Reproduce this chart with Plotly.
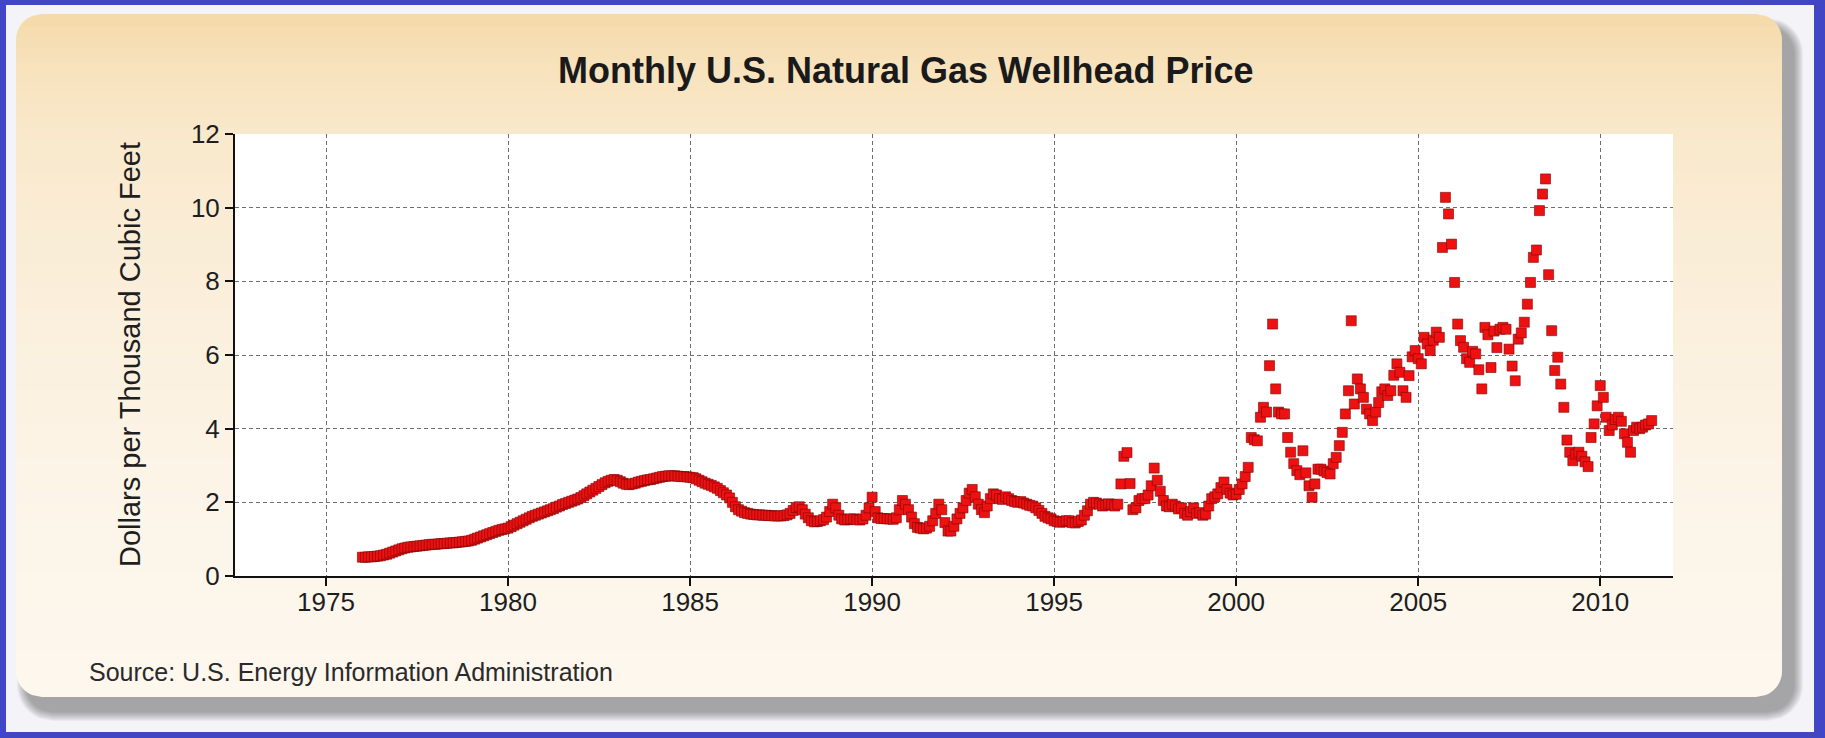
import numpy as np
import pandas as pd
import plotly.graph_objects as go

# ---------------- data (U.S. natural gas wellhead price, $/Mcf, monthly) ----------------
first_month = "1976-01-01"

prices_1976_1987 = [
    0.51, 0.51, 0.52, 0.52, 0.53, 0.54, 0.55, 0.57, 0.59, 0.62, 0.65, 0.68,
    0.71, 0.74, 0.76, 0.78, 0.79, 0.80, 0.81, 0.82, 0.83, 0.84, 0.85, 0.86,
    0.86, 0.87, 0.88, 0.88, 0.89, 0.90, 0.90, 0.91, 0.92, 0.93, 0.94, 0.95,
    0.97, 1.00, 1.03, 1.06, 1.09, 1.12, 1.15, 1.18, 1.21, 1.24, 1.26, 1.28,
    1.30, 1.34, 1.38, 1.42, 1.46, 1.50, 1.54, 1.58, 1.62, 1.65, 1.68, 1.71,
    1.74, 1.77, 1.80, 1.83, 1.87, 1.90, 1.94, 1.97, 2.00, 2.03, 2.06, 2.09,
    2.13, 2.18, 2.23, 2.28, 2.33, 2.38, 2.43, 2.48, 2.53, 2.57, 2.60, 2.62,
    2.60, 2.56, 2.52, 2.49, 2.48, 2.50, 2.52, 2.55, 2.57, 2.59, 2.61, 2.62,
    2.64, 2.66, 2.68, 2.70, 2.71, 2.72, 2.72, 2.72, 2.71, 2.70, 2.70, 2.69,
    2.68, 2.67, 2.64, 2.60, 2.56, 2.52, 2.49, 2.46, 2.42, 2.38, 2.32, 2.26,
    2.20, 2.12, 2.00, 1.88, 1.80, 1.76, 1.72, 1.70, 1.68, 1.67, 1.66, 1.66,
    1.65, 1.65, 1.64, 1.64, 1.63, 1.63, 1.63, 1.64, 1.66, 1.70, 1.78, 1.86,
]
prices_1988_1999 = [
    1.88, 1.80, 1.68, 1.58, 1.50, 1.47, 1.48, 1.50, 1.53, 1.60, 1.75, 1.95,
    1.85, 1.65, 1.55, 1.52, 1.53, 1.55, 1.55, 1.53, 1.52, 1.55, 1.65, 1.85,
    2.14, 1.75, 1.58, 1.56, 1.56, 1.55, 1.55, 1.54, 1.58, 1.80, 2.05, 1.95,
    1.80, 1.60, 1.42, 1.32, 1.30, 1.28, 1.30, 1.35, 1.50, 1.70, 1.95, 1.80,
    1.45, 1.22, 1.22, 1.35, 1.55, 1.70, 1.85, 2.05, 2.25, 2.35, 2.15, 1.95,
    1.80, 1.72, 1.90, 2.10, 2.23, 2.20, 2.10, 2.08, 2.15, 2.10, 2.05, 2.02,
    2.00, 2.02, 1.98, 1.95, 1.92, 1.90, 1.85, 1.78, 1.70, 1.62, 1.58, 1.55,
    1.50, 1.48, 1.46, 1.47, 1.50, 1.50, 1.45, 1.44, 1.48, 1.52, 1.65, 1.77,
    1.95, 2.00, 1.98, 1.95, 1.90, 1.92, 1.96, 1.94, 1.90, 1.95, 2.50, 3.25,
    3.35, 2.51, 1.80, 1.85, 2.05, 2.10, 2.10, 2.20, 2.45, 2.93, 2.60, 2.30,
    2.05, 1.90, 1.88, 1.95, 1.90, 1.82, 1.85, 1.70, 1.65, 1.75, 1.85, 1.70,
    1.72, 1.65, 1.68, 1.90, 2.10, 2.15, 2.23, 2.40, 2.55, 2.35, 2.25, 2.20,
]
prices_2000_2011 = [
    2.22, 2.35, 2.50, 2.70, 2.95, 3.76, 3.70, 3.67, 4.31, 4.58, 4.45, 5.71,
    6.84, 5.08, 4.45, 4.40, 4.40, 3.76, 3.36, 3.05, 2.86, 2.75, 3.40, 2.80,
    2.45, 2.14, 2.50, 2.90, 2.90, 2.85, 2.81, 2.77, 3.05, 3.22, 3.54, 3.90,
    4.40, 5.03, 6.93, 4.67, 5.35, 5.08, 4.85, 4.53, 4.40, 4.22, 4.45, 4.71,
    5.00, 5.08, 4.90, 5.03, 5.45, 5.76, 5.53, 5.03, 4.85, 5.44, 5.95, 6.12,
    5.90, 5.76, 6.48, 6.30, 6.12, 6.40, 6.62, 6.48, 8.92, 10.28, 9.83, 9.01,
    7.97, 6.84, 6.39, 6.21, 5.90, 5.80, 6.10, 6.03, 5.60, 5.08, 6.75, 6.55,
    5.66, 6.65, 6.20, 6.70, 6.75, 6.70, 6.16, 5.70, 5.30, 6.43, 6.60, 6.89,
    7.38, 7.97, 8.65, 8.85, 9.92, 10.37, 10.78, 8.18, 6.66, 5.58, 5.94, 5.21,
    4.58, 3.69, 3.36, 3.13, 3.31, 3.36, 3.25, 3.10, 2.97, 3.76, 4.13, 4.62,
    5.17, 4.85, 4.31, 3.95, 4.10, 4.25, 4.31, 4.20, 3.86, 3.63, 3.36, 3.95,
    4.04, 4.00, 4.04, 4.10, 4.13, 4.22,
]
x_tick_years = [1975, 1980, 1985, 1990, 1995, 2000, 2005, 2010]
y_tick_values = [0, 2, 4, 6, 8, 10, 12]

title_text = "Monthly U.S. Natural Gas Wellhead Price"
y_title_text = "Dollars per Thousand Cubic Feet"
source_text = "Source: U.S. Energy Information Administration"

prices = prices_1976_1987 + prices_1988_1999 + prices_2000_2011
months = pd.date_range(first_month, periods=len(prices), freq="MS")

# ---------------- geometry helpers (pixel -> paper) ----------------
W, H = 1825, 738
L, R, T, B = 235, 152, 134, 162
PW, PH = W - L - R, H - T - B


def px(X):
    return (X - L) / PW


def py(Y):
    return (H - B - Y) / PH


def rr_path(x0, y0, x1, y1, r, ya=None, yb=None):
    """Rounded-rectangle (pixel coords, y down), optionally clipped to [ya, yb]."""
    ya = y0 if ya is None else ya
    yb = y1 if yb is None else yb

    def inset(y):
        if y < y0 + r:
            d = y0 + r - y
        elif y > y1 - r:
            d = y - (y1 - r)
        else:
            return 0.0
        return r - np.sqrt(max(r * r - d * d, 0.0))

    ys = np.concatenate([np.linspace(ya, yb, 3),
                         np.linspace(y0, y0 + r, 14),
                         np.linspace(y1 - r, y1, 14)])
    ys = np.unique(ys[(ys >= ya) & (ys <= yb)])
    pts = [(x0 + inset(y), y) for y in ys] + [(x1 - inset(y), y) for y in ys[::-1]]
    return "M " + " L ".join(f"{px(x):.5f},{py(y):.5f}" for x, y in pts) + " Z"


shapes = []
# light frame inside the blue border
shapes.append(dict(type="rect", xref="paper", yref="paper", layer="below",
                   x0=px(6), x1=px(1814), y0=py(732), y1=py(5),
                   fillcolor="#F3F3F8", line=dict(width=0)))

# card geometry
CX0, CY0, CX1, CY1, CR = 16, 14, 1782, 697, 26

# soft drop shadow
for i in range(10):
    e = 10 - i
    shapes.append(dict(type="path", xref="paper", yref="paper", layer="below",
                       path=rr_path(CX0 + 11 - e, CY0 + 14 - e, CX1 + 11 + e, CY1 + 14 + e, CR + e),
                       fillcolor="rgba(60,60,60,0.05)", line=dict(width=0)))

# beige card with vertical gradient
stops_y = [CY0, 60, 140, 330, 520, CY1]
stops_c = [(245, 218, 170), (247, 225, 186), (249, 233, 205), (251, 240, 222),
           (252, 245, 233), (253, 247, 238)]
nb = 60
edges = np.linspace(CY0, CY1, nb + 1)
for k in range(nb):
    ya, yb = edges[k], edges[k + 1]
    ym = 0.5 * (ya + yb)
    c = [int(round(np.interp(ym, stops_y, [s[j] for s in stops_c]))) for j in range(3)]
    shapes.append(dict(type="path", xref="paper", yref="paper", layer="below",
                       path=rr_path(CX0, CY0, CX1, CY1, CR, ya, min(yb + 0.8, CY1)),
                       fillcolor=f"rgb({c[0]},{c[1]},{c[2]})", line=dict(width=0)))

# white plotting area
shapes.append(dict(type="rect", xref="paper", yref="paper", layer="below",
                   x0=0, x1=1, y0=0, y1=1, fillcolor="#FFFFFF", line=dict(width=0)))

FONT = "Liberation Sans, Arial, sans-serif"

fig = go.Figure()
fig.add_trace(go.Scatter(
    x=months, y=prices, mode="markers",
    marker=dict(symbol="square", size=10, color="#EE1111",
                line=dict(color="#7A0606", width=0.6)),
    hoverinfo="skip", showlegend=False,
))

axis_common = dict(
    showline=True, linecolor="#111111", linewidth=2,
    ticks="outside", ticklen=8, tickwidth=2, tickcolor="#111111",
    showgrid=True, gridcolor="#6E6E6E", gridwidth=1, griddash="4px,3px",
    zeroline=False, tickfont=dict(family=FONT, size=26, color="#1E1E1E"),
)

fig.update_xaxes(
    type="date", range=["1972-07-02", "2012-01-01"],
    tickvals=[f"{y}-01-01" for y in x_tick_years],
    ticktext=[str(y) for y in x_tick_years],
    ticklabelstandoff=-6,
    **axis_common,
)
fig.update_yaxes(
    range=[0, 12], tickvals=y_tick_values,
    ticktext=[str(v) for v in y_tick_values],
    **axis_common,
)

annotations = [
    dict(text=f"<b>{title_text}</b>", xref="paper", yref="paper",
         x=px(906), y=py(70), xanchor="center", yanchor="middle", showarrow=False,
         font=dict(family=FONT, size=36, color="#1A1A1A")),
    dict(text=y_title_text, xref="paper", yref="paper", textangle=-90,
         x=px(130), y=py(355), xanchor="center", yanchor="middle", showarrow=False,
         font=dict(family=FONT, size=29, color="#1E1E1E")),
    dict(text=source_text, xref="paper", yref="paper",
         x=px(87), y=py(672), xanchor="left", yanchor="middle", showarrow=False,
         font=dict(family=FONT, size=25, color="#2A2A2A")),
]

fig.update_layout(
    width=W, height=H,
    margin=dict(l=L, r=R, t=T, b=B, pad=0),
    paper_bgcolor="#4246C4",
    plot_bgcolor="rgba(0,0,0,0)",
    shapes=shapes,
    annotations=annotations,
    showlegend=False,
    font=dict(family=FONT),
)

fig.write_html("out.html", config={"displayModeBar": False},
               post_script="document.body.style.margin='0px';")
